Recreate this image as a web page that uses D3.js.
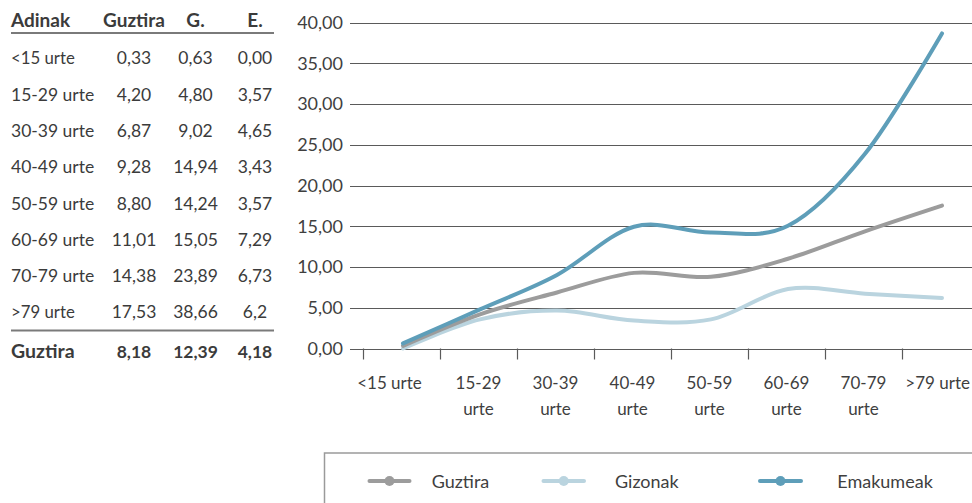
<!DOCTYPE html>
<html>
<head>
<meta charset="utf-8">
<script src="https://cdn.jsdelivr.net/npm/d3@7"></script>
<style>
  html, body { margin: 0; padding: 0; background: #fff; }
  svg { display: block; font-family: Lato, "Open Sans", sans-serif; }
</style>
</head>
<body>
<svg id="chart" width="972" height="503"></svg>
<script>
// Age groups (table rows and chart categories)
const adinak = ["<15 urte", "15-29 urte", "30-39 urte", "40-49 urte", "50-59 urte", "60-69 urte", "70-79 urte", ">79 urte"];

// Table columns
const tableGuztira = ["0,33", "4,20", "6,87", "9,28", "8,80", "11,01", "14,38", "17,53"];
const tableG = ["0,63", "4,80", "9,02", "14,94", "14,24", "15,05", "23,89", "38,66"];
const tableE = ["0,00", "3,57", "4,65", "3,43", "3,57", "7,29", "6,73", "6,2"];
const tableTotal = ["Guztira", "8,18", "12,39", "4,18"];
const tableHeader = ["Adinak", "Guztira", "G.", "E."];

// Chart series
const guztiraValues = [0.33, 4.20, 6.87, 9.28, 8.80, 11.01, 14.38, 17.53];
const gizonakValues = [0.00, 3.57, 4.65, 3.43, 3.57, 7.29, 6.73, 6.20];
const emakumeakValues = [0.63, 4.80, 9.02, 14.94, 14.24, 15.05, 23.89, 38.66];
const seriesNames = ["Guztira", "Gizonak", "Emakumeak"];
const yTicks = [0, 5, 10, 15, 20, 25, 30, 35, 40];

const colors = { Guztira: "#9c9c9c", Gizonak: "#bad4df", Emakumeak: "#5e9eb9" };
const textColor = "#3b3b3b";

const svg = d3.select("#chart");

// ---------- Table ----------
const table = svg.append("g").attr("fill", textColor).style("font-size", "17.5px");
const colX = [11, 134, 195.5, 255];
const colAnchor = ["start", "middle", "middle", "middle"];
const isNumber = s => /^[0-9]/.test(s);

table.selectAll("text.head").data(tableHeader).join("text")
  .attr("class", "head")
  .attr("x", (d, i) => colX[i]).attr("y", 26.7)
  .attr("text-anchor", (d, i) => colAnchor[i])
  .style("font-weight", 700)
  .style("font-size", "19px")
  .text(d => d);

table.append("line").attr("x1", 11).attr("x2", 274).attr("y1", 33).attr("y2", 33)
  .attr("stroke", "#7a7a7a").attr("stroke-width", 2);

const rows = adinak.map((a, i) => [a, tableGuztira[i], tableG[i], tableE[i]]);
const rowY = i => 64.3 + i * 36.3;
table.selectAll("g.row").data(rows).join("g").attr("class", "row")
  .each(function (row, r) {
    d3.select(this).selectAll("text").data(row).join("text")
      .attr("x", (d, i) => colX[i]).attr("y", rowY(r))
      .attr("text-anchor", (d, i) => colAnchor[i])
      .style("font-size", d => isNumber(d) ? "17.5px" : "16.8px")
      .text(d => d);
  });

table.append("line").attr("x1", 11).attr("x2", 274).attr("y1", 330.5).attr("y2", 330.5)
  .attr("stroke", "#7a7a7a").attr("stroke-width", 2);

table.selectAll("text.total").data(tableTotal).join("text")
  .attr("class", "total")
  .attr("x", (d, i) => colX[i]).attr("y", 357.7)
  .attr("text-anchor", (d, i) => colAnchor[i])
  .style("font-weight", 700)
  .style("font-size", d => isNumber(d) ? "17.5px" : "19.5px")
  .text(d => d);

// ---------- Chart ----------
const gridLeft = 350, gridRight = 972;
const y = d3.scaleLinear().domain([0, 40]).range([348.5, 22.5]);
const x = d3.scaleBand().domain(adinak).range([363, 979]).padding(0);
const cx = d => x(d) + x.bandwidth() / 2 + 1.5;

const locale = d3.formatLocale({ decimal: ",", thousands: ".", grouping: [3], currency: ["", " €"] });
const fmt = locale.format(".2f");

const chart = svg.append("g");

// horizontal gridlines
chart.selectAll("line.grid").data(yTicks).join("line")
  .attr("class", "grid")
  .attr("x1", gridLeft).attr("x2", gridRight)
  .attr("y1", d => Math.round(y(d)) + 0.5).attr("y2", d => Math.round(y(d)) + 0.5)
  .attr("stroke", "#5a5a5a").attr("stroke-width", 1.2);

// y labels
const yAxis = chart.append("g").attr("transform", `translate(${gridLeft},0)`)
  .call(d3.axisLeft(y).tickValues(yTicks).tickFormat(fmt).tickSize(0).tickPadding(7));
yAxis.select(".domain").remove();
yAxis.selectAll("text").attr("fill", "#3f3f3f").style("font-size", "18px")
  .style("font-family", "Lato, 'Open Sans', sans-serif");

// x tick marks at category boundaries
chart.selectAll("line.xtick").data(adinak).join("line")
  .attr("class", "xtick")
  .attr("x1", d => Math.round(x(d)) + 0.5).attr("x2", d => Math.round(x(d)) + 0.5)
  .attr("y1", y(0)).attr("y2", y(0) + 11)
  .attr("stroke", "#5a5a5a").attr("stroke-width", 1.2);

// x labels, wrapped when wider than a category, kept inside the view
const xl = chart.selectAll("text.xlab").data(adinak).join("text")
  .attr("class", "xlab")
  .attr("x", d => x(d) + x.bandwidth() / 2)
  .attr("y", 388.5)
  .attr("text-anchor", "middle")
  .attr("fill", "#3f3f3f")
  .style("font-size", "17px")
  .text(d => d);
xl.each(function (d, i) {
  const t = d3.select(this);
  const w = this.getComputedTextLength();
  if (w > 70) {
    t.text(null);
    d.split(" ").forEach((word, k) => {
      t.append("tspan").attr("x", t.attr("x")).attr("dy", k === 0 ? 0 : 26).text(word);
    });
  } else {
    let cxl = +t.attr("x");
    if (i === 0) cxl -= 12;
    cxl = Math.min(cxl, 970 - w / 2);
    t.attr("x", cxl);
  }
});

// series lines
const series = [
  { name: "Gizonak", values: gizonakValues },
  { name: "Guztira", values: guztiraValues },
  { name: "Emakumeak", values: emakumeakValues }
];
const line = d3.line()
  .x((d, i) => cx(adinak[i]))
  .y(d => y(d))
  .curve(d3.curveCardinal.tension(0));

chart.selectAll("path.series").data(series).join("path")
  .attr("class", "series")
  .attr("d", s => line(s.values))
  .attr("fill", "none")
  .attr("stroke", s => colors[s.name])
  .attr("stroke-width", 4)
  .attr("stroke-linecap", "round")
  .attr("stroke-linejoin", "round");

// ---------- Legend ----------
const legend = svg.append("g");
legend.append("rect")
  .attr("x", 324.5).attr("y", 453).attr("width", 700).attr("height", 100)
  .attr("fill", "none").attr("stroke", "#9a9a9a").attr("stroke-width", 1.5);

const legendPos = [
  { x1: 369.5, x2: 409.5, tx: 431.7 },
  { x1: 543.5, x2: 584, tx: 615 },
  { x1: 760, x2: 801, tx: 837.3 }
];
const items = legend.selectAll("g.item").data(seriesNames).join("g").attr("class", "item");
items.append("line")
  .attr("x1", (d, i) => legendPos[i].x1).attr("x2", (d, i) => legendPos[i].x2)
  .attr("y1", 481).attr("y2", 481)
  .attr("stroke", d => colors[d]).attr("stroke-width", 4).attr("stroke-linecap", "round");
items.append("circle")
  .attr("cx", (d, i) => (legendPos[i].x1 + legendPos[i].x2) / 2).attr("cy", 481).attr("r", 5)
  .attr("fill", d => colors[d]);
items.append("text")
  .attr("x", (d, i) => legendPos[i].tx).attr("y", 487.5)
  .attr("fill", "#3f3f3f").style("font-size", "18px")
  .text(d => d);
</script>
</body>
</html>
